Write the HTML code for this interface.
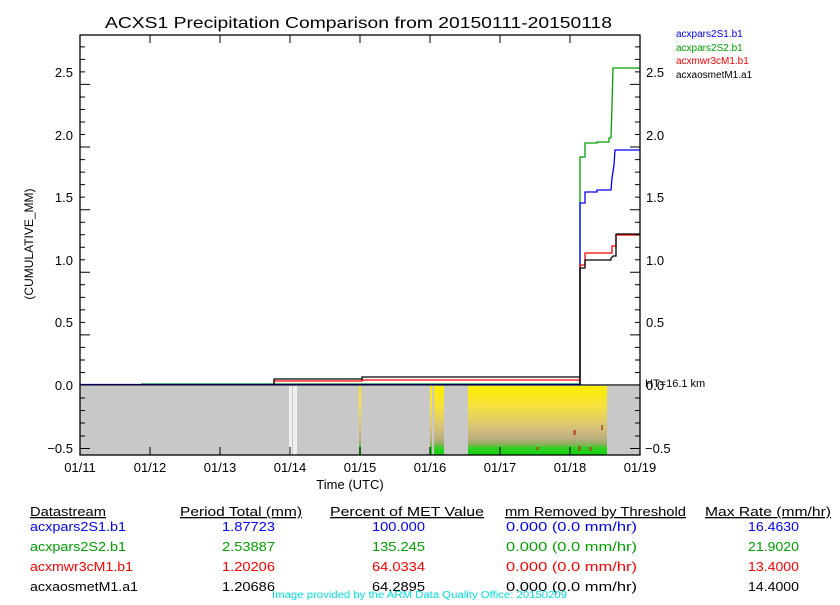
<!DOCTYPE html>
<html><head><meta charset="utf-8"><style>
html,body{margin:0;padding:0;background:#fff;}
svg text{font-family:"Liberation Sans",sans-serif;}
</style></head><body>
<svg width="840" height="600" viewBox="0 0 840 600" xmlns="http://www.w3.org/2000/svg">
<defs>
<linearGradient id="g" x1="0" y1="0" x2="0" y2="1">
<stop offset="0" stop-color="#ffee00"/>
<stop offset="0.3" stop-color="#f5e040"/>
<stop offset="0.55" stop-color="#dcc870"/>
<stop offset="0.75" stop-color="#c0b080"/>
<stop offset="0.84" stop-color="#90b060"/>
<stop offset="0.9" stop-color="#30d020"/>
<stop offset="1" stop-color="#10d010"/>
</linearGradient>
</defs>
<rect width="840" height="600" fill="#fff"/>
<text x="105" y="28" font-size="16" textLength="507" lengthAdjust="spacingAndGlyphs">ACXS1 Precipitation Comparison from 20150111-20150118</text>
<rect x="80" y="386" width="560" height="69" fill="#c8c8c8"/>
<rect x="289" y="386" width="8" height="69" fill="#efefef"/>
<rect x="292" y="386" width="1" height="69" fill="#c8c8c8"/>
<rect x="359" y="386" width="2" height="69" fill="url(#g)"/>
<rect x="430" y="386" width="2" height="69" fill="url(#g)"/>
<rect x="434" y="386" width="10" height="69" fill="url(#g)"/>
<rect x="468" y="386" width="139" height="69" fill="url(#g)"/>
<g fill="#b04020" opacity="0.7">
<rect x="573" y="430" width="3" height="5"/><rect x="601" y="425" width="2" height="5"/>
<rect x="578" y="446" width="3" height="5"/><rect x="589" y="447" width="3" height="4"/>
<rect x="536" y="447" width="3" height="3"/>
</g>
<g fill="none" stroke-width="1.3">
<polyline stroke="#00a000" points="141,384 580,384 580,157 585,157 585,143 597,143 597,142 609,142 609,138 611,138 612,105 613,68 640,68"/>
<polyline stroke="#0000ff" points="80,384.5 580,384.5 580,203 585,203 585,192 597,192 597,190 611,190 612,178 614,165 615,150 640,150"/>
<polyline stroke="#ff0000" points="274,385 274,381 362,381 362,380 580,380 580,265 585,265 585,253 612,253 612,246 616,246 616,235 640,235"/>
<polyline stroke="#000" points="274,385 274,379 362,379 362,377 580,377 580,385 580,268 585,268 585,260 611,260 611,258 613,256 616,256 616,234 640,234"/>
</g>
<g stroke="#000" stroke-width="1.3" fill="none">
<rect x="80" y="35" width="560" height="420"/>
<line x1="80" y1="385" x2="640" y2="385"/>
</g>
<g stroke="#000" stroke-width="1">
<path d="M80 372.5h5M80 360h5M80 347.4h5M80 334.9h10M80 322.4h5M80 309.9h5M80 297.4h5M80 284.8h5M80 259.8h5M80 247.2h5M80 234.7h5M80 222.2h5M80 197.1h5M80 184.6h5M80 172.1h5M80 159.6h5M80 134.5h5M80 122h5M80 109.5h5M80 97h5M80 71.9h5M80 59.4h5M80 46.9h5M80 272.3h10M80 209.7h10M80 147h10M80 84.4h10"/>
<path d="M640 372.5h-5M640 360h-5M640 347.4h-5M640 334.9h-10M640 322.4h-5M640 309.9h-5M640 297.4h-5M640 284.8h-5M640 259.8h-5M640 247.2h-5M640 234.7h-5M640 222.2h-5M640 197.1h-5M640 184.6h-5M640 172.1h-5M640 159.6h-5M640 134.5h-5M640 122h-5M640 109.5h-5M640 97h-5M640 71.9h-5M640 59.4h-5M640 46.9h-5M640 272.3h-10M640 209.7h-10M640 147h-10M640 84.4h-10"/>
<path d="M80 398h5M80 410.5h5M80 423h5M80 436h5M80 448.5h10M640 398h-5M640 410.5h-5M640 423h-5M640 436h-5M640 448.5h-10"/>
<path d="M150 455v-8M220 455v-8M290 455v-8M360 455v-8M430 455v-8M500 455v-8M570 455v-8M150 35v8M220 35v8M290 35v8M360 35v8M430 35v8M500 35v8M570 35v8"/>
</g>
<g font-size="13" text-anchor="end">
<text x="73" y="390">0.0</text><text x="73" y="327">0.5</text><text x="73" y="265">1.0</text><text x="73" y="202">1.5</text><text x="73" y="140">2.0</text><text x="73" y="77">2.5</text><text x="73" y="453">−0.5</text>
</g>
<g font-size="13">
<text x="646" y="327">0.5</text><text x="646" y="265">1.0</text><text x="646" y="202">1.5</text><text x="646" y="140">2.0</text><text x="646" y="77">2.5</text><text x="645" y="453">−0.5</text><text x="646" y="390">0.0</text>
</g>
<text x="645" y="387" font-size="11">HT=16.1 km</text>
<g font-size="13" text-anchor="middle">
<text x="80" y="472">01/11</text><text x="150" y="472">01/12</text><text x="220" y="472">01/13</text><text x="290" y="472">01/14</text><text x="360" y="472">01/15</text><text x="430" y="472">01/16</text><text x="500" y="472">01/17</text><text x="570" y="472">01/18</text><text x="640" y="472">01/19</text>
<text x="350" y="489">Time (UTC)</text>
</g>
<text transform="translate(33,244) rotate(-90)" font-size="12" text-anchor="middle">(CUMULATIVE_MM)</text>
<g font-size="10">
<text x="676" y="37" fill="#0000ff">acxpars2S1.b1</text>
<text x="676" y="51" fill="#00a000">acxpars2S2.b1</text>
<text x="676" y="64" fill="#ff0000">acxmwr3cM1.b1</text>
<text x="676" y="78" fill="#000">acxaosmetM1.a1</text>
</g>
<g font-size="13" lengthAdjust="spacingAndGlyphs">
<text x="30" y="516" text-decoration="underline" textLength="76" lengthAdjust="spacingAndGlyphs">Datastream</text>
<text x="180" y="516" text-decoration="underline" textLength="122" lengthAdjust="spacingAndGlyphs">Period Total (mm)</text>
<text x="330" y="516" text-decoration="underline" textLength="154" lengthAdjust="spacingAndGlyphs">Percent of MET Value </text>
<text x="505" y="516" text-decoration="underline" textLength="181" lengthAdjust="spacingAndGlyphs">mm Removed by Threshold</text>
<text x="705" y="516" text-decoration="underline" textLength="126" lengthAdjust="spacingAndGlyphs">Max Rate (mm/hr)</text>
<g fill="#0000ff"><text x="30" y="531" textLength="96" lengthAdjust="spacingAndGlyphs">acxpars2S1.b1</text><text x="222" y="531" textLength="53" lengthAdjust="spacingAndGlyphs">1.87723</text><text x="372" y="531" textLength="53" lengthAdjust="spacingAndGlyphs">100.000</text><text x="506" y="531" textLength="131" lengthAdjust="spacingAndGlyphs">0.000 (0.0 mm/hr)</text><text x="748" y="531" textLength="51" lengthAdjust="spacingAndGlyphs">16.4630</text></g>
<g fill="#00a000"><text x="30" y="551" textLength="96" lengthAdjust="spacingAndGlyphs">acxpars2S2.b1</text><text x="222" y="551" textLength="53" lengthAdjust="spacingAndGlyphs">2.53887</text><text x="372" y="551" textLength="53" lengthAdjust="spacingAndGlyphs">135.245</text><text x="506" y="551" textLength="131" lengthAdjust="spacingAndGlyphs">0.000 (0.0 mm/hr)</text><text x="748" y="551" textLength="51" lengthAdjust="spacingAndGlyphs">21.9020</text></g>
<g fill="#ff0000"><text x="30" y="571" textLength="103" lengthAdjust="spacingAndGlyphs">acxmwr3cM1.b1</text><text x="222" y="571" textLength="53" lengthAdjust="spacingAndGlyphs">1.20206</text><text x="372" y="571" textLength="53" lengthAdjust="spacingAndGlyphs">64.0334</text><text x="506" y="571" textLength="131" lengthAdjust="spacingAndGlyphs">0.000 (0.0 mm/hr)</text><text x="748" y="571" textLength="51" lengthAdjust="spacingAndGlyphs">13.4000</text></g>
<g fill="#000"><text x="30" y="591" textLength="108" lengthAdjust="spacingAndGlyphs">acxaosmetM1.a1</text><text x="222" y="591" textLength="53" lengthAdjust="spacingAndGlyphs">1.20686</text><text x="372" y="591" textLength="53" lengthAdjust="spacingAndGlyphs">64.2895</text><text x="506" y="591" textLength="131" lengthAdjust="spacingAndGlyphs">0.000 (0.0 mm/hr)</text><text x="748" y="591" textLength="51" lengthAdjust="spacingAndGlyphs">14.4000</text></g>
</g>
<text x="272" y="598" font-size="10" fill="#00e0e0" textLength="295" lengthAdjust="spacingAndGlyphs">Image provided by the ARM Data Quality Office: 20150209</text>
</svg>
</body></html>
